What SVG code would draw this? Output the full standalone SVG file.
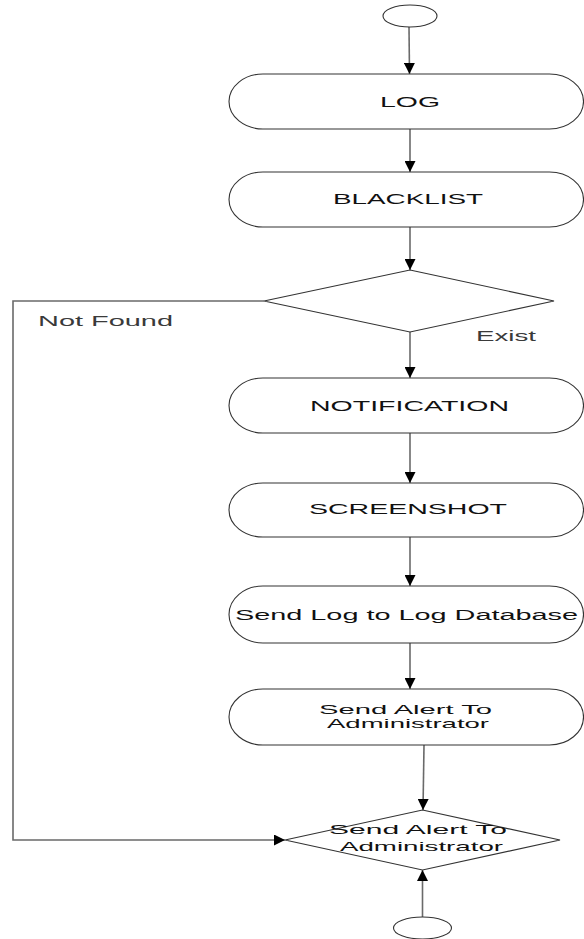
<svg xmlns="http://www.w3.org/2000/svg" width="584" height="939" viewBox="0 0 584 939">
  <defs>
    <style>
      .shape { fill: #ffffff; stroke: #333333; stroke-width: 1.1; }
      .conn { fill: none; stroke: #6a6a6a; stroke-width: 1.6; }
      .lbl { font-family: "Liberation Sans", Arial, sans-serif; font-size: 14px; fill: #111111; text-anchor: middle; }
      .lbl2 { font-family: "Liberation Sans", Arial, sans-serif; font-size: 13px; fill: #111111; text-anchor: middle; }
      .edge { font-family: "Liberation Sans", Arial, sans-serif; font-size: 14px; fill: #3a3a3a; }
    </style>
    <marker id="arrow" viewBox="0 0 10 10" refX="10" refY="5" markerWidth="11" markerHeight="11" markerUnits="userSpaceOnUse" orient="auto">
      <path d="M0,0 L10,5 L0,10 Z" fill="#000000"/>
    </marker>
  </defs>

  <rect width="584" height="939" fill="#ffffff"/>

  <!-- connectors -->
  <g id="connectors">
    <line class="conn" x1="409" y1="27" x2="409.5" y2="74" marker-end="url(#arrow)"/>
    <line class="conn" x1="410" y1="129" x2="410" y2="172" marker-end="url(#arrow)"/>
    <line class="conn" x1="410" y1="227" x2="410" y2="270" marker-end="url(#arrow)"/>
    <line class="conn" x1="410" y1="332" x2="410" y2="378" marker-end="url(#arrow)"/>
    <line class="conn" x1="410" y1="433" x2="410" y2="483" marker-end="url(#arrow)"/>
    <line class="conn" x1="410" y1="537" x2="410" y2="586" marker-end="url(#arrow)"/>
    <line class="conn" x1="410" y1="643" x2="410" y2="689" marker-end="url(#arrow)"/>
    <line class="conn" x1="424" y1="745" x2="423" y2="810" marker-end="url(#arrow)"/>
    <polyline class="conn" points="264,301 13,301 13,840 285,840" marker-end="url(#arrow)"/>
    <line class="conn" x1="422.5" y1="917" x2="422.5" y2="870" marker-end="url(#arrow)"/>
    <text class="edge" x="38" y="326" textLength="135" lengthAdjust="spacingAndGlyphs">Not Found</text>
    <text class="edge" x="476" y="341" textLength="60" lengthAdjust="spacingAndGlyphs">Exist</text>
  </g>

  <!-- start terminal -->
  <g id="start">
    <ellipse class="shape" cx="410" cy="16" rx="27" ry="11"/>
  </g>

  <g id="log">
    <path class="shape" d="M263,74 H549.5 A34,27.5 0 0 1 549.5,129 H263 A34,27.5 0 0 1 263,74 Z"/>
    <text class="lbl" x="410" y="107" textLength="60" lengthAdjust="spacingAndGlyphs">LOG</text>
  </g>

  <g id="blacklist">
    <path class="shape" d="M263,172 H549.5 A34,27.5 0 0 1 549.5,227 H263 A34,27.5 0 0 1 263,172 Z"/>
    <text class="lbl" x="408" y="203.5" textLength="150" lengthAdjust="spacingAndGlyphs">BLACKLIST</text>
  </g>

  <g id="decision">
    <polygon class="shape" points="410,270 554,301 410,332 264,301"/>
  </g>

  <g id="notification">
    <path class="shape" d="M263,378 H549.5 A34,27.5 0 0 1 549.5,433 H263 A34,27.5 0 0 1 263,378 Z"/>
    <text class="lbl" x="409.5" y="411" textLength="199" lengthAdjust="spacingAndGlyphs">NOTIFICATION</text>
  </g>

  <g id="screenshot">
    <path class="shape" d="M263,483 H549.5 A34,27 0 0 1 549.5,537 H263 A34,27 0 0 1 263,483 Z"/>
    <text class="lbl" x="408" y="514" textLength="198" lengthAdjust="spacingAndGlyphs">SCREENSHOT</text>
  </g>

  <g id="send-log">
    <path class="shape" d="M263,586 H549.5 A34,28.5 0 0 1 549.5,643 H263 A34,28.5 0 0 1 263,586 Z"/>
    <text class="lbl" x="406.5" y="620" textLength="343" lengthAdjust="spacingAndGlyphs">Send Log to Log Database</text>
  </g>

  <g id="send-alert">
    <path class="shape" d="M263,689 H549.5 A34,28 0 0 1 549.5,745 H263 A34,28 0 0 1 263,689 Z"/>
    <text class="lbl2" x="405.5" y="714" textLength="173" lengthAdjust="spacingAndGlyphs">Send Alert To</text>
    <text class="lbl2" x="408" y="728" textLength="162" lengthAdjust="spacingAndGlyphs">Administrator</text>
  </g>

  <g id="alert-decision">
    <polygon class="shape" points="422.5,810 560,840 422.5,870 285,840"/>
    <text class="lbl2" x="418" y="834" textLength="178" lengthAdjust="spacingAndGlyphs">Send Alert To</text>
    <text class="lbl2" x="421.5" y="851" textLength="163" lengthAdjust="spacingAndGlyphs">Administrator</text>
  </g>

  <!-- end terminal -->
  <g id="end">
    <ellipse class="shape" cx="422.5" cy="928" rx="29" ry="11"/>
  </g>
</svg>
